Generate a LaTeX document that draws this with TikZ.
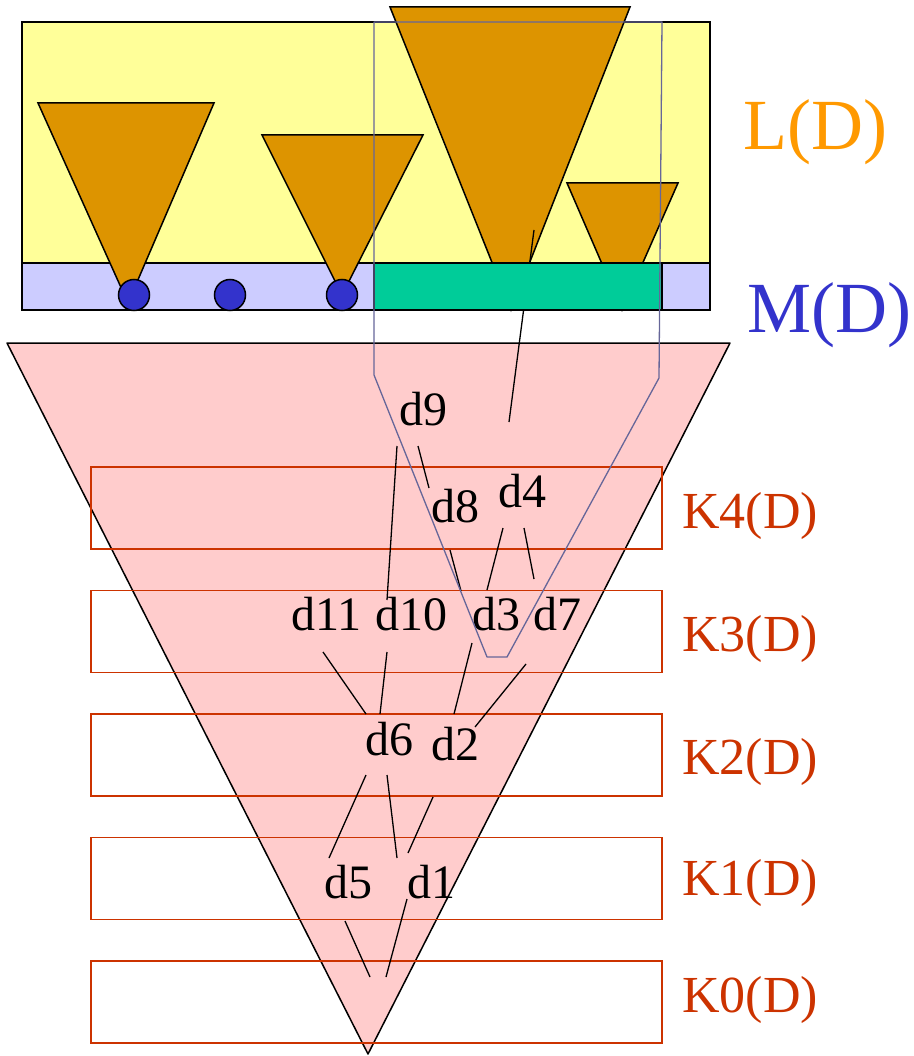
\documentclass[tikz,border=0pt]{standalone}
\usepackage{fontspec}
\setmainfont{Liberation Serif}
\usetikzlibrary{calc}
\definecolor{lyellow}{RGB}{255,255,153}
\definecolor{mlavender}{RGB}{204,204,255}
\definecolor{treeorange}{RGB}{221,148,0}
\definecolor{mgreen}{RGB}{0,204,153}
\definecolor{mblue}{RGB}{51,51,204}
\definecolor{conepink}{RGB}{255,204,204}
\definecolor{kred}{RGB}{204,51,0}
\definecolor{lorange}{RGB}{255,153,0}
\definecolor{viewpurple}{RGB}{102,102,153}
\tikzset{
    % Layers
    layerbox/.style={
        draw=black,
        line width=1.5pt
    },
    subtree/.style={
        draw=black,
        fill=treeorange,
        line width=1.5pt
    },
    leafdot/.style={
        circle,
        draw=black,
        fill=mblue,
        line width=1.5pt,
        minimum size=31pt,
        inner sep=0pt
    },
    kbox/.style={
        draw=kred,
        line width=1.3pt
    },
    % Labels
    klabel/.style={
        anchor=base west,
        inner sep=0pt,
        text=kred,
        font=\fontsize{52}{60}\selectfont
    },
    dlabel/.style={
        anchor=base west,
        inner sep=0pt,
        font=\fontsize{48}{56}\selectfont
    },
    biglabel/.style={
        anchor=base west,
        inner sep=0pt,
        font=\fontsize{72}{80}\selectfont
    },
    % Connectors
    link/.style={
        draw=black,
        line width=1.3pt
    },
    viewline/.style={
        draw=viewpurple,
        line width=1.3pt,
        line join=round
    }
}

\begin{document}
\begin{tikzpicture}[x=1pt, y=-1pt]
    \useasboundingbox (0,0) rectangle (913,1056);

    % L(D) and M(D) layers
    \fill[lyellow, layerbox] (22,22) rectangle (710,263);
    \fill[mlavender, layerbox] (22,263) rectangle (710,310);

    % Subtrees
    \filldraw[subtree] (38,103) -- (214,103) -- (128,303) -- cycle;
    \filldraw[subtree] (262,135) -- (423,135) -- (342,295) -- cycle;
    \filldraw[subtree] (390,7) -- (630,7) -- (511,310) -- cycle;
    \filldraw[subtree] (567,183) -- (678,183) -- (622,310) -- cycle;

    % Leaves
    \node[leafdot] (m1) at (134,295) {};
    \node[leafdot] (m2) at (230,295) {};
    \node[leafdot] (m3) at (342,295) {};

    % Cone
    \filldraw[fill=conepink, draw=black, line width=1.5pt, line join=round]
        (7,343) -- (730,343) -- (368,1054) -- cycle;

    % Levels
    \foreach \top in {467,590.5,714,837.3,961} {
        \draw[kbox] (91,\top) rectangle (662,\top+82);
    }

    % Nodes of the cone
    \node[dlabel] (d9) at (399,425) {d9};
    \node[dlabel] (d8) at (431,522) {d8};
    \node[dlabel] (d4) at (498,507) {d4};
    \node[dlabel] (d11) at (291,630) {d11};
    \node[dlabel] (d10) at (375,630) {d10};
    \node[dlabel] (d3) at (472,630) {d3};
    \node[dlabel] (d7) at (533,630) {d7};
    \node[dlabel] (d6) at (365,755) {d6};
    \node[dlabel] (d2) at (431,760) {d2};
    \node[dlabel] (d5) at (324,898) {d5};
    \node[dlabel] (d1) at (407,898) {d1};
    \coordinate (root) at (378,977);
    \coordinate (ltip) at (534,230);

    % Tree edges
    \draw[link] (ltip) -- ([shift={(11,-85)}]d4.base west);
    \foreach \a/\ax/\ay/\b/\bx/\by in {
        d9/-2/21/d10/12/-30, d9/19/21/d8/-2/-34,
        d4/5/21/d3/15/-40, d4/26/21/d7/1/-51,
        d8/19/28/d3/-11/-39,
        d11/32/22/d6/1/-41, d10/12/22/d6/15/-41,
        d3/0/13/d2/23/-46, d7/-7/34/d2/44/-33,
        d6/1/20/d5/5/-40, d6/22/20/d1/-10/-40,
        d2/2/37/d1/1/-45} {
        \draw[link] ([shift={(\ax,\ay)}]\a.base west) -- ([shift={(\bx,\by)}]\b.base west);
    }
    \draw[link] ([shift={(21,23)}]d5.base west) -- ([shift={(-8,0)}]root);
    \draw[link] ([shift={(0,1)}]d1.base west) -- ([shift={(8,0)}]root);

    % M(D) part above the subtree
    \fill[mgreen, layerbox] (374,263) rectangle (662,310);

    % View outline
    \draw[viewline] (374,22) -- (662,22) -- (659,378) -- (507,657) -- (487,657) -- (374,375) -- cycle;

    % Side labels
    \node[biglabel, text=lorange] (ld) at (743,150) {L(D)};
    \node[biglabel, text=mblue] (md) at (747,332) {M(D)};
    \foreach \k/\y in {4/528,3/651.5,2/774.5,1/895,0/1012.5} {
        \node[klabel] (k\k) at (682,\y) {K\k(D)};
    }

\end{tikzpicture}
\end{document}
